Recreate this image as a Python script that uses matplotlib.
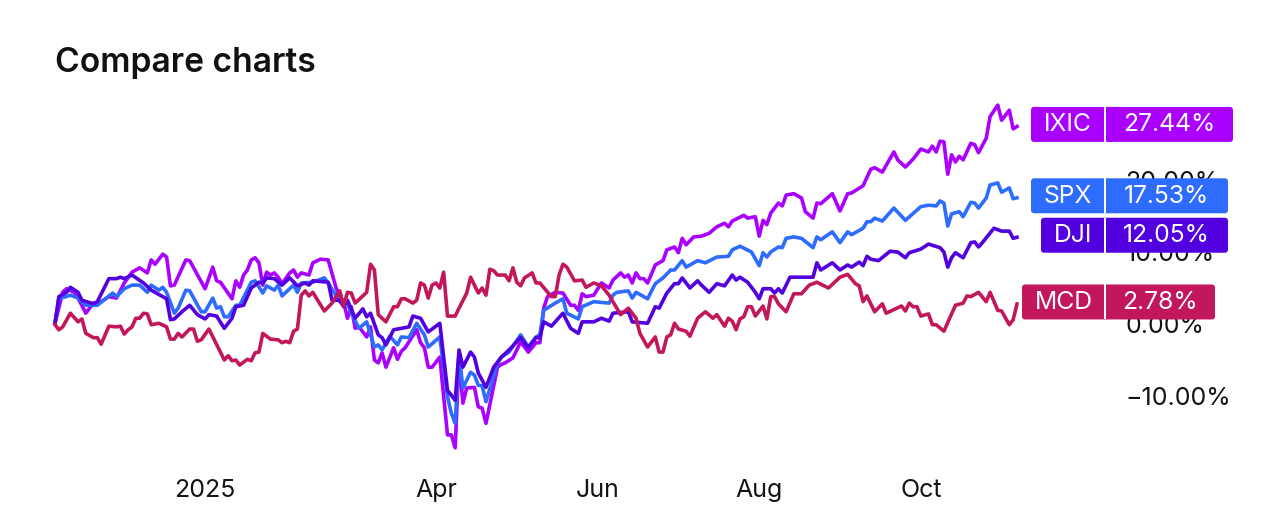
#!/usr/bin/env python3

import matplotlib
matplotlib.use("Agg")
import matplotlib.pyplot as plt
from matplotlib.patches import FancyBboxPatch, Rectangle

plt.rcParams['font.family'] = ['Inter', 'DejaVu Sans']

# x is trading days since the start of the window, y is percent change
ixic_days = [0,2,3,5,6,8,10,12,14,16,18,20,22,24,25,26,28,29,30,31,34,35,39,41,42,43,46,47,48,49,50,51,52,53,54,55,56,57,58,59,61,62,63,64,66,67,69,71,73,74,75,76,77,78,79,81,82,83,84,85,86,88,89,90,91,94,95,96,97,98,100,102,103,104,105,106,107,109,110,111,112,115,116,117,119,121,123,125,126,127,128,130,132,134,135,136,137,138,140,142,144,145,147,148,149,150,151,152,153,154,156,158,159,161,162,163,164,166,168,170,172,174,175,176,179,180,182,183,184,185,186,188,189,190,192,194,195,197,198,199,202,204,206,207,210,212,213,215,218,219,221,223,225,227,228,229,230,231,232,233,234,235,236,238,239,240,242,243,245,246,248,249,250]
ixic_pct = [0.1,4.4,4.9,4.4,3.6,1.5,2.9,3.1,3.8,3.6,5.7,7.2,7.8,7.1,8.9,8.3,9.7,9.3,5.3,5.4,8.9,8.8,4.9,7.9,6.0,5.8,3.5,6.0,5.1,6.8,7.5,8.9,9.2,8.5,5.4,7.2,6.8,7.1,6.5,5.6,7.1,7.5,6.5,7.1,6.8,8.5,9.0,8.9,5.1,3.8,3.1,0.8,2.4,-0.6,-0.4,-1.8,-0.4,-5.0,-5.4,-4.0,-6.0,-3.3,-4.9,-3.8,-3.3,-0.8,-2.6,-3.3,-6.0,-6.0,-4.6,-15.4,-15.4,-17.2,-4.6,-11.0,-8.9,-8.8,-11.5,-11.7,-13.8,-6.0,-5.6,-5.4,-4.7,-2.5,-3.9,-2.6,-2.6,2.2,3.8,4.4,4.3,2.6,2.6,1.9,4.2,3.8,4.0,5.7,5.0,6.1,7.1,6.5,6.8,5.7,7.1,6.3,6.3,5.7,8.2,8.8,10.3,10.7,9.9,11.9,11.0,12.1,12.2,12.6,13.5,14.0,13.5,14.3,15.1,14.7,14.9,12.2,14.4,13.8,15.4,16.8,16.4,17.9,18.1,17.5,15.6,14.7,16.8,16.7,18.1,15.7,18.1,18.2,19.2,21.5,21.7,21.1,23.9,22.8,21.8,22.9,24.3,23.9,24.7,23.9,25.4,25.3,20.8,23.5,22.5,23.3,22.8,25.1,24.9,23.8,25.8,28.8,30.4,28.3,29.7,27.1,27.44]

spx_days = [0,1,4,6,8,11,15,16,18,20,22,24,25,27,28,29,31,32,34,35,38,39,41,42,43,44,45,47,48,51,52,54,55,57,58,59,62,63,64,67,70,71,74,76,77,79,81,83,84,85,87,89,90,92,94,96,97,100,102,103,104,105,106,108,109,110,111,112,115,116,118,121,123,125,126,127,130,132,133,136,137,140,144,145,146,149,150,151,153,154,156,158,160,161,163,164,167,169,172,175,176,178,181,183,184,185,186,188,189,190,192,194,197,198,199,202,204,206,207,210,211,212,213,215,218,221,225,227,229,230,231,232,233,235,236,238,239,240,242,243,245,246,248,249,250]
spx_pct = [0.1,3.5,4.0,3.6,2.6,2.6,4.3,3.8,4.9,5.4,5.4,4.4,5.4,4.7,5.1,4.4,1.5,2.2,4.7,4.6,1.7,1.7,3.6,2.2,2.4,1.0,1.0,2.6,2.6,5.8,6.0,4.3,5.3,4.7,5.4,3.9,5.4,4.4,5.7,5.8,6.4,5.7,3.1,2.9,1.5,-0.6,0.3,-3.2,-2.9,-3.6,-1.7,-2.9,-1.8,-1.9,0.1,-1.5,-3.2,-1.8,-10.1,-12.4,-13.8,-4.0,-8.9,-6.7,-7.1,-8.5,-8.6,-10.8,-5.4,-4.6,-3.9,-1.5,-3.2,-1.8,-1.5,1.9,2.9,3.5,1.5,0.7,2.4,3.1,2.9,4.0,4.4,4.6,3.6,4.4,3.8,3.5,5.6,6.4,7.5,7.5,8.8,7.9,8.8,8.5,9.3,9.4,10.3,10.8,10.0,8.1,9.9,9.3,10.0,10.7,10.6,11.9,12.1,11.9,10.6,12.1,11.7,12.8,11.3,12.8,12.4,13.3,14.2,14.2,14.7,14.3,16.1,14.4,16.3,16.5,16.4,17.1,16.8,13.6,15.3,15.6,14.9,16.9,16.8,16.1,17.5,19.3,19.6,18.3,18.9,17.4,17.53]

dji_days = [0,1,3,4,6,7,10,11,14,16,17,18,20,23,25,29,30,31,33,35,37,39,40,42,44,46,47,49,51,53,54,55,57,59,61,63,65,66,67,71,72,74,75,76,78,80,81,82,84,85,86,88,90,92,93,95,97,100,102,104,105,106,108,109,110,112,114,116,118,121,123,125,126,127,129,132,134,136,137,140,142,144,145,149,150,154,156,157,159,161,162,163,165,167,168,170,172,174,176,177,178,180,182,183,184,186,187,188,189,191,197,198,199,202,204,206,207,209,210,211,212,214,217,219,221,222,225,227,230,231,232,233,234,236,238,239,240,241,244,246,248,249,250]
dji_pct = [0.1,3.8,4.4,5.1,4.4,3.3,2.8,3.1,6.3,6.3,6.5,6.3,6.8,5.7,4.7,3.5,0.6,0.7,1.7,2.6,1.3,0.7,1.3,1.1,-0.6,0.8,2.4,2.6,5.0,5.8,5.7,6.4,6.3,5.4,6.4,5.3,5.7,5.4,6.0,5.8,3.3,3.3,2.4,3.3,0.8,2.1,1.0,1.5,-1.5,-1.9,-2.9,-0.8,-0.6,-0.4,1.1,0.8,-1.1,0.1,-9.2,-10.6,-3.6,-6.0,-3.9,-4.6,-6.8,-8.8,-6.0,-4.6,-3.6,-1.9,-3.3,-1.9,-1.9,0.3,-0.3,1.5,-0.6,-1.3,0.3,0.3,0.8,0.4,1.5,1.7,0.3,0.1,2.4,2.2,4.3,5.6,5.6,6.4,5.0,6.0,5.4,4.4,5.6,5.3,6.8,6.1,6.5,5.8,4.4,3.5,4.9,4.9,4.3,4.9,4.3,6.5,6.5,8.5,7.5,8.5,7.5,8.2,7.9,8.6,8.1,9.4,9.0,8.8,10.1,10.0,9.2,9.9,10.4,11.1,10.6,10.0,7.9,9.2,9.9,9.2,11.3,11.4,10.7,11.3,13.3,12.9,12.9,11.9,12.05]

mcd_days = [0,1,2,4,6,7,8,10,11,12,14,16,17,18,19,20,21,22,23,24,25,27,29,30,31,32,33,35,36,37,38,40,44,45,46,47,48,50,51,52,53,54,56,58,59,60,61,62,63,64,65,66,67,70,72,74,75,76,77,78,81,82,83,84,86,88,89,90,91,93,94,95,96,97,98,99,100,101,102,104,105,107,108,110,111,112,113,114,115,117,118,119,120,121,122,124,125,126,129,130,131,132,133,135,137,138,140,142,144,147,149,151,152,154,156,157,158,159,160,161,162,164,165,167,169,171,172,174,175,176,177,178,179,180,181,182,184,185,186,187,188,190,192,194,196,198,201,204,206,208,209,210,211,213,215,216,220,221,222,223,224,225,227,228,229,231,234,236,237,238,240,242,243,245,246,248,249,250]
mcd_pct = [-0.1,-0.8,-0.4,1.5,0.3,0.7,-1.3,-1.9,-1.9,-2.8,-0.3,-0.4,-0.3,-1.4,-0.8,-0.4,0.8,0.8,1.5,1.4,-0.1,0.1,-0.4,-2.1,-2.1,-1.3,-1.8,-0.7,-0.7,-2.4,-2.2,-0.7,-5.0,-4.4,-5.1,-5.0,-5.7,-4.9,-5.1,-4.0,-3.9,-1.3,-2.1,-2.2,-2.6,-2.4,-2.6,-1.0,-0.7,4.0,4.6,3.9,4.4,1.8,2.9,4.6,2.5,4.4,4.3,2.9,4.4,8.3,7.5,1.3,0.3,2.4,2.4,3.5,3.5,2.9,3.3,5.7,5.4,3.6,5.4,5.7,5.0,7.2,1.1,1.1,2.2,4.3,6.5,4.3,5.0,4.0,7.6,7.4,6.8,6.8,6.0,7.8,5.8,5.3,6.4,7.1,5.7,5.7,3.8,3.8,6.8,8.3,7.9,6.0,6.1,5.1,5.7,5.3,4.0,1.3,2.2,0.8,-1.3,-3.2,-1.8,-3.9,-3.9,-1.8,-1.5,0.1,-0.7,-1.0,-1.7,0.8,1.7,0.8,1.3,-0.3,0.8,0.4,-0.8,0.7,1.0,2.4,2.4,1.1,2.5,0.7,3.8,3.8,2.8,1.7,4.2,4.2,5.4,5.8,5.0,6.5,6.9,5.6,5.3,3.1,3.9,1.7,2.8,1.5,2.5,1.8,2.9,2.4,2.4,1.1,1.4,-0.1,-0.1,-1.0,2.6,2.9,3.9,3.8,4.4,3.1,4.4,1.9,1.8,-0.1,0.6,2.78]

series_names = ['IXIC', 'SPX', 'DJI', 'MCD']
series_days = [ixic_days, spx_days, dji_days, mcd_days]
series_pct = [ixic_pct, spx_pct, dji_pct, mcd_pct]
last_labels = ['27.44%', '17.53%', '12.05%', '2.78%']

month_ticks = [39, 99, 141, 183, 225]
month_labels = ['2025', 'Apr', 'Jun', 'Aug', 'Oct']
pct_ticks = [-10, 0, 10, 20]
pct_labels = ['\u221210.00%', '0.00%', '10.00%', '20.00%']

COLORS = ['#AA00FF', '#2E6BFF', '#5200E0', '#C2185B']
# badge left / right edges in pixels
BADGE_LEFT = [1031, 1031, 1041, 1022]
BADGE_RIGHT = [1233, 1228, 1228, 1215]
DIVIDER = 1105
W, H = 1280, 532
TEXT_COL = '#141414'

fig = plt.figure(figsize=(W / 100, H / 100), dpi=100, facecolor='white')
top_px, bottom_px = 90, 470
ax = fig.add_axes([55 / W, 1 - bottom_px / H, 962 / W, (bottom_px - top_px) / H])
ax.set_xlim(0, 250)
ax.set_ylim((324 - bottom_px) / 7.2, (324 - top_px) / 7.2)
ax.patch.set_visible(False)
for s in ax.spines.values():
    s.set_visible(False)

for days, pct, col in zip(series_days, series_pct, COLORS):
    ax.plot(days, pct, color=col, lw=2.6, solid_joinstyle='round', clip_on=False)

ax.set_xticks(month_ticks, month_labels)
ax.yaxis.tick_right()
ax.set_yticks(pct_ticks, pct_labels)
ax.tick_params(axis='x', length=0, pad=6.5, labelsize=18, labelcolor=TEXT_COL)
ax.tick_params(axis='y', length=0, pad=78, labelsize=18, labelcolor=TEXT_COL)
for lab in ax.get_yticklabels():
    lab.set_horizontalalignment('left')

fig.text(55 / W, 1 - 63 / H, 'Compare charts', fontsize=24.2, fontweight='semibold',
         color='#111111', va='center', ha='left')

# overlay in pixels for the end-of-line badges
over = fig.add_axes([0, 0, 1, 1])
over.set_xlim(0, W)
over.set_ylim(0, H)
over.axis('off')

for i, name in enumerate(series_names):
    yc = ax.transData.transform((0, series_pct[i][-1]))[1] + 2
    left, right = BADGE_LEFT[i], BADGE_RIGHT[i]
    box = FancyBboxPatch((left + 2, yc - 15.5), right - left - 4, 31,
                         boxstyle='round,pad=0,rounding_size=2', lw=0, mutation_aspect=1)
    box.set_boxstyle('round', pad=2, rounding_size=3)
    box.set_facecolor(COLORS[i])
    over.add_patch(box)
    over.add_patch(Rectangle((DIVIDER - 1, yc - 17.5), 1.5, 35, color='white', lw=0))
    over.text((left + DIVIDER) / 2, yc - 0.5, name, color='white', fontsize=17.8,
              ha='center', va='center')
    over.text((DIVIDER + right) / 2, yc - 0.5, last_labels[i], color='white', fontsize=17.8,
              ha='center', va='center')

fig.savefig('out.png', dpi=100)
